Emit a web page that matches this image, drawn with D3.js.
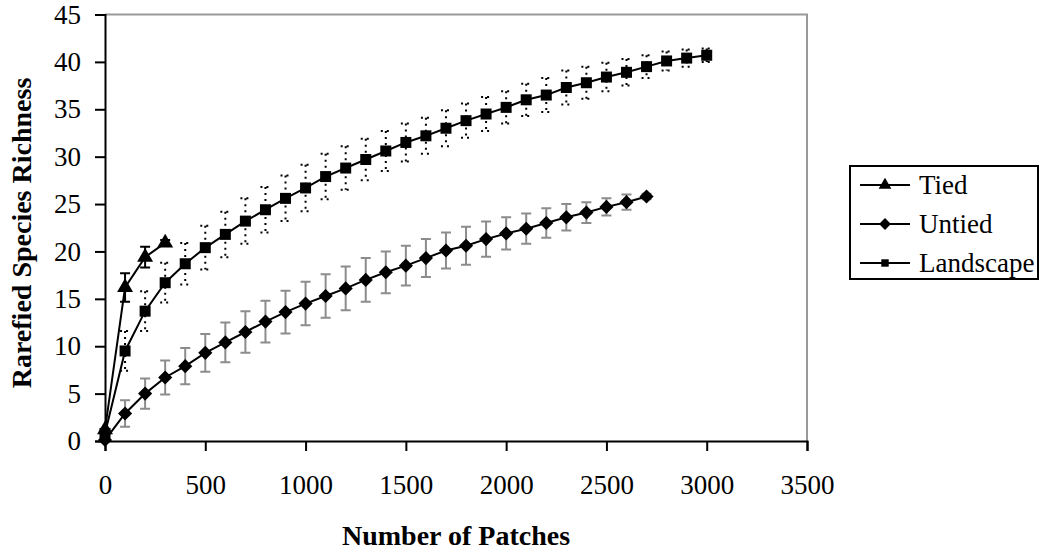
<!DOCTYPE html>
<html>
<head>
<meta charset="utf-8">
<script src="https://cdn.jsdelivr.net/npm/d3@7"></script>
<style>
  body { margin: 0; background: #fff; }
  svg text { font-family: "Times New Roman", "Liberation Serif", serif; fill: #000; }
</style>
</head>
<body>
<div id="chart"></div>
<script>
// values
const tiedX = [0, 100, 200, 300];
const tiedY = [1.2, 16.2, 19.4, 20.9];
const tiedErr = [0, 1.5, 1.1, 0.3];

const untiedX = [0, 100, 200, 300, 400, 500, 600, 700, 800, 900, 1000, 1100, 1200, 1300,
  1400, 1500, 1600, 1700, 1800, 1900, 2000, 2100, 2200, 2300, 2400, 2500, 2600, 2700];
const untiedY = [0.1, 2.9, 5.0, 6.7, 7.9, 9.3, 10.4, 11.5, 12.6, 13.6, 14.5, 15.3, 16.1, 17.0,
  17.8, 18.5, 19.3, 20.1, 20.6, 21.3, 21.9, 22.4, 23.0, 23.6, 24.1, 24.7, 25.2, 25.8];
const untiedErr = [0, 1.4, 1.6, 1.8, 1.9, 2.0, 2.1, 2.2, 2.2, 2.25, 2.3, 2.3, 2.3, 2.3,
  2.2, 2.1, 2.0, 1.9, 2.0, 1.85, 1.7, 1.6, 1.55, 1.4, 1.1, 0.9, 0.8, 0.3];

const landscapeX = [0, 100, 200, 300, 400, 500, 600, 700, 800, 900, 1000, 1100, 1200, 1300,
  1400, 1500, 1600, 1700, 1800, 1900, 2000, 2100, 2200, 2300, 2400, 2500, 2600, 2700, 2800, 2900, 3000];
const landscapeY = [0.8, 9.5, 13.7, 16.7, 18.7, 20.4, 21.8, 23.2, 24.4, 25.6, 26.7, 27.9, 28.8, 29.7,
  30.6, 31.5, 32.2, 33.0, 33.8, 34.5, 35.2, 36.0, 36.5, 37.3, 37.8, 38.4, 38.9, 39.5, 40.1, 40.4, 40.7];
const landscapeErr = [0, 2.1, 2.1, 2.1, 2.2, 2.3, 2.4, 2.4, 2.4, 2.4, 2.45, 2.4, 2.3, 2.2,
  2.1, 2.0, 1.9, 1.9, 1.8, 1.8, 1.7, 1.7, 1.8, 1.8, 1.7, 1.5, 1.4, 1.2, 1.0, 0.9, 0.7];

const xTicks = [0, 500, 1000, 1500, 2000, 2500, 3000, 3500];
const yTicks = [0, 5, 10, 15, 20, 25, 30, 35, 40, 45];
const seriesNames = ["Tied", "Untied", "Landscape"];

const width = 1041, height = 552;
const plot = { left: 105, right: 807, top: 14.5, bottom: 441 };

const svg = d3.select("#chart").append("svg")
  .attr("width", width)
  .attr("height", height);

const x = d3.scaleLinear().domain([0, 3500]).range([plot.left, plot.right]);
const y = d3.scaleLinear().domain([0, 45]).range([plot.bottom, plot.top]);

// grey frame on top and right of the plot area
svg.append("path")
  .attr("d", `M${plot.left},${plot.top}H${plot.right}V${plot.bottom}`)
  .attr("fill", "none")
  .attr("stroke", "#999")
  .attr("stroke-width", 2);

const yAxis = svg.append("g")
  .attr("transform", `translate(${plot.left},0)`)
  .call(d3.axisLeft(y).tickValues(yTicks).tickFormat(d3.format("d")).tickSize(10).tickPadding(14));
const xAxis = svg.append("g")
  .attr("transform", `translate(0,${plot.bottom})`)
  .call(d3.axisBottom(x).tickValues(xTicks).tickFormat(d3.format("d")).tickSize(10).tickPadding(24));

[xAxis, yAxis].forEach(a => {
  a.select(".domain").attr("stroke", "#000").attr("stroke-width", 2);
  a.selectAll(".tick line").attr("stroke", "#000").attr("stroke-width", 2);
  a.selectAll(".tick text")
    .style("font-family", '"Times New Roman", "Liberation Serif", serif')
    .style("font-size", "27px");
});
xAxis.selectAll(".tick text").attr("dy", "0.72em");

svg.append("text")
  .attr("x", (plot.left + plot.right) / 2)
  .attr("y", 545)
  .attr("text-anchor", "middle")
  .style("font-size", "28px")
  .style("font-weight", "bold")
  .text("Number of Patches");

svg.append("text")
  .attr("transform", `translate(31,233) rotate(-90)`)
  .attr("text-anchor", "middle")
  .style("font-size", "28px")
  .style("font-weight", "bold")
  .text("Rarefied Species Richness");

function zip(xs, ys, es) {
  return xs.map((v, i) => ({ x: v, y: ys[i], e: es[i] }));
}

// the diamond is a square turned by 45 degrees
const series = [
  { name: seriesNames[0], data: zip(tiedX, tiedY, tiedErr), symbol: d3.symbolTriangle, size: 110, rot: 0,
    legendSize: 70, errColor: "#000", errDash: null },
  { name: seriesNames[1], data: zip(untiedX, untiedY, untiedErr), symbol: d3.symbolSquare, size: 100, rot: 45,
    legendSize: 70, errColor: "#8c8c8c", errDash: null },
  { name: seriesNames[2], data: zip(landscapeX, landscapeY, landscapeErr), symbol: d3.symbolSquare, size: 121, rot: 0,
    legendSize: 55, errColor: "#000", errDash: "2,4" }
];

const line = d3.line().x(d => x(d.x)).y(d => y(d.y));
const capHalf = 5;

series.forEach(s => {
  const g = svg.append("g");

  // error bars
  const eb = g.append("g")
    .attr("stroke", s.errColor)
    .attr("stroke-width", 2)
    .attr("stroke-dasharray", s.errDash)
    .attr("fill", "none");
  eb.selectAll("path")
    .data(s.data.filter(d => d.e > 0))
    .join("path")
    .attr("d", d => {
      const cx = x(d.x), y1 = y(d.y + d.e), y0 = y(d.y - d.e);
      return `M${cx},${y1}V${y0}M${cx - capHalf},${y1}H${cx + capHalf}M${cx - capHalf},${y0}H${cx + capHalf}`;
    });

  g.append("path")
    .datum(s.data)
    .attr("d", line)
    .attr("fill", "none")
    .attr("stroke", "#000")
    .attr("stroke-width", 2);

  g.selectAll(".mark")
    .data(s.data)
    .join("path")
    .attr("class", "mark")
    .attr("transform", d => `translate(${x(d.x)},${y(d.y)}) rotate(${s.rot})`)
    .attr("d", d3.symbol(s.symbol, s.size))
    .attr("fill", "#000");
});

// legend
const legend = svg.append("g");
legend.append("rect")
  .attr("x", 850).attr("y", 166)
  .attr("width", 188).attr("height", 113)
  .attr("fill", "#fff")
  .attr("stroke", "#000")
  .attr("stroke-width", 2);

const legendRows = legend.selectAll(".row")
  .data(series)
  .join("g")
  .attr("class", "row")
  .attr("transform", (d, i) => `translate(860,${185 + i * 39})`);

legendRows.append("line")
  .attr("x1", 0).attr("x2", 50)
  .attr("stroke", "#000").attr("stroke-width", 2);
legendRows.append("path")
  .attr("transform", d => `translate(25,0) rotate(${d.rot})`)
  .attr("d", d => d3.symbol(d.symbol, d.legendSize)())
  .attr("fill", "#000");
legendRows.append("text")
  .attr("x", 59)
  .attr("dy", "0.35em")
  .style("font-size", "27px")
  .text(d => d.name);
</script>
</body>
</html>
